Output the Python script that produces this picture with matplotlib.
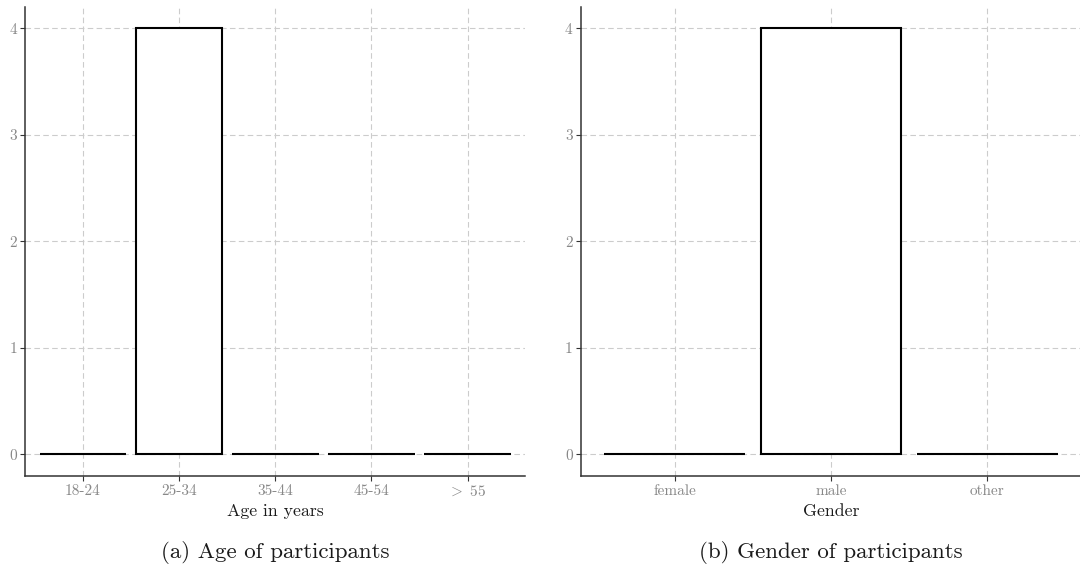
import matplotlib
matplotlib.use("Agg")
import matplotlib.pyplot as plt

plt.rcParams["font.family"] = "cmr10"
plt.rcParams["mathtext.fontset"] = "cm"
plt.rcParams["axes.formatter.use_mathtext"] = True

# participant counts
age_groups = ["18-24", "25-34", "35-44", "45-54", r"$>\ 55$"]
age_counts = [0, 4, 0, 0, 0]
genders = ["female", "male", "other"]
gender_counts = [0, 4, 0]
y_ticks = [0, 1, 2, 3, 4]

W, H = 1080, 572
fig = plt.figure(figsize=(W / 100, H / 100), dpi=100)

panels = [
    (age_groups, age_counts, "Age in years", "(a) Age of participants", 25.3),
    (genders, gender_counts, "Gender", "(b) Gender of participants", 581.0),
]

for cats, counts, xlab, caption, left in panels:
    ax = fig.add_axes([left / W, 1 - 475.7 / H, 500 / W, (475.7 - 7) / H])
    x = list(range(len(cats)))
    ax.bar(x, counts, width=0.9, facecolor="white", edgecolor="black",
           linewidth=1.5, zorder=3)
    ax.set_xlim(-0.6, len(cats) - 0.4)
    ax.set_ylim(-0.2, 4.2)
    ax.set_xticks(x)
    ax.set_xticklabels(cats)
    ax.set_yticks(y_ticks)
    ax.set_yticklabels([str(t) for t in y_ticks])
    ax.grid(True, color="#cccccc", linestyle=(0, (5, 3)), linewidth=0.8, zorder=0)
    ax.set_axisbelow(True)
    for s in ["top", "right"]:
        ax.spines[s].set_visible(False)
    for s in ["left", "bottom"]:
        ax.spines[s].set_color("#333333")
        ax.spines[s].set_linewidth(1.1)
    ax.tick_params(axis="both", length=3.5, width=0.8, color="#333333",
                   labelcolor="#888888", labelsize=11, pad=2.5)
    ax.set_xlabel(xlab, fontsize=12.8, color="#1a1a1a", labelpad=4)
    cx = (left + 250) / W
    fig.text(cx, 1 - 553 / H, caption, ha="center", va="center",
             fontsize=16.5, color="#1a1a1a")

fig.savefig("out.png", dpi=100)
